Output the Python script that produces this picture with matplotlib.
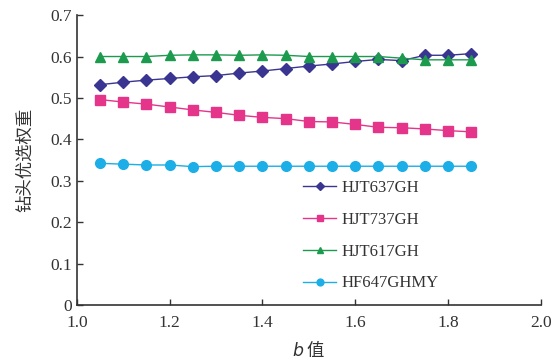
import matplotlib
matplotlib.use("Agg")
import matplotlib.pyplot as plt

b = [1.05, 1.10, 1.15, 1.20, 1.25, 1.30, 1.35, 1.40, 1.45, 1.50,
     1.55, 1.60, 1.65, 1.70, 1.75, 1.80, 1.85]
hjt637 = [0.532, 0.538, 0.543, 0.547, 0.551, 0.554, 0.560, 0.565, 0.571, 0.577,
          0.582, 0.588, 0.593, 0.590, 0.603, 0.603, 0.607]
hjt737 = [0.496, 0.490, 0.485, 0.478, 0.471, 0.465, 0.458, 0.453, 0.450, 0.443,
          0.442, 0.436, 0.429, 0.428, 0.425, 0.421, 0.418]
hjt617 = [0.600, 0.600, 0.600, 0.603, 0.604, 0.604, 0.603, 0.604, 0.603, 0.600,
          0.600, 0.600, 0.600, 0.596, 0.592, 0.592, 0.592]
hf647 = [0.342, 0.340, 0.338, 0.338, 0.334, 0.335, 0.335, 0.335, 0.335, 0.335,
         0.335, 0.335, 0.335, 0.335, 0.335, 0.335, 0.335]
labels = ["HJT637GH", "HJT737GH", "HJT617GH", "HF647GHMY"]
xticks = [1.0, 1.2, 1.4, 1.6, 1.8, 2.0]
yticks = [0, 0.1, 0.2, 0.3, 0.4, 0.5, 0.6, 0.7]
yticklabels = ["0", "0.1", "0.2", "0.3", "0.4", "0.5", "0.6", "0.7"]

serif = ["Liberation Serif", "DejaVu Serif"]
cjk = ["Noto Sans CJK SC", "DejaVu Sans"]

fig = plt.figure(figsize=(5.53, 3.60), dpi=100)
ax = fig.add_axes([0.139, 0.153, 0.839, 0.805])

series = [
    (hjt637, "#3a3590", "D", 6),
    (hjt737, "#e5358a", "s", 6.5),
    (hjt617, "#1c9a4e", "^", 7),
    (hf647, "#1caee6", "o", 7),
]
for (vals, col, mk, ms), lab in zip(series, labels):
    ax.plot(b, vals, color=col, marker=mk, markersize=ms, linewidth=1.0,
            label=lab)

ax.set_xlim(1.0, 2.0)
ax.set_ylim(0, 0.7)
ax.set_xticks(xticks)
ax.set_xticklabels([f"{t:.1f}" for t in xticks], fontfamily=serif, fontsize=12.5)
ax.set_yticks(yticks)
ax.set_yticklabels(yticklabels, fontfamily=serif, fontsize=12.5)
ax.tick_params(direction="in", length=4, width=1, colors="#333333")
ax.tick_params(axis="x", pad=7)
for s in ["top", "right"]:
    ax.spines[s].set_visible(False)
for s in ["left", "bottom"]:
    ax.spines[s].set_linewidth(1.2)
    ax.spines[s].set_color("#333333")

ax.set_ylabel("钻头优选权重", fontfamily=cjk, fontsize=12.5, color="#333333",
              labelpad=12)
ax.set_xlabel("$b$ 值", fontfamily=cjk, fontsize=12.5, color="#333333",
              labelpad=6)

leg = ax.legend(loc="lower left", bbox_to_anchor=(0.455, -0.005), frameon=False,
                prop={"family": serif, "size": 12}, handlelength=2.0,
                markerscale=0.7, labelspacing=0.95, handletextpad=0.3)
for t in leg.get_texts():
    t.set_color("#333333")

fig.savefig("out.png", dpi=100)
